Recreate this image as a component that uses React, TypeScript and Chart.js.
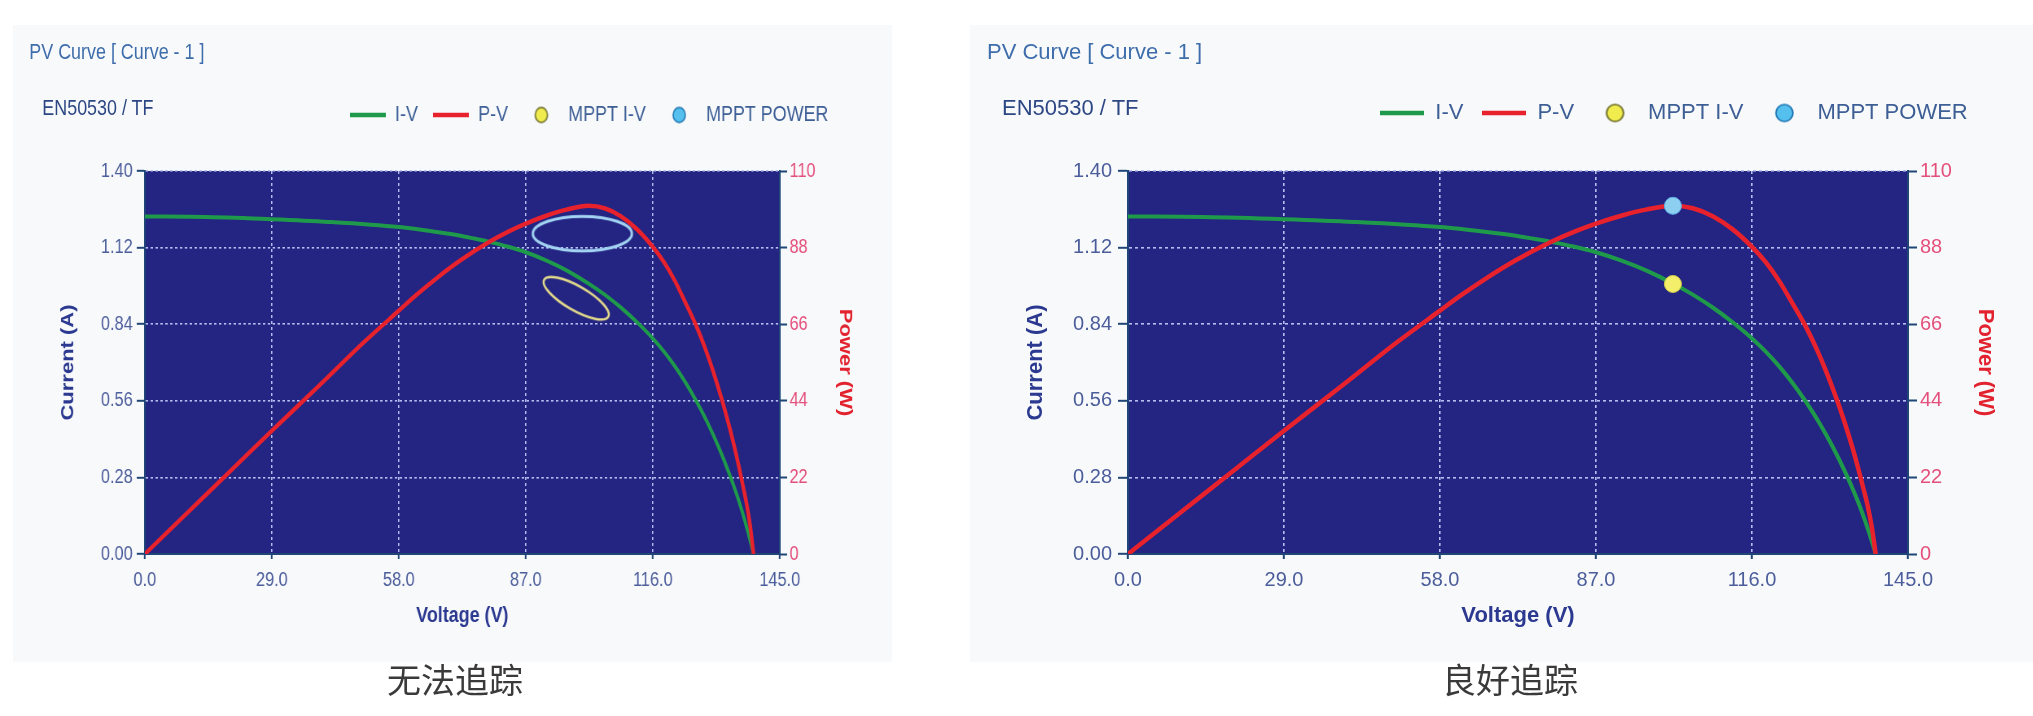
import React, { useEffect, useRef } from "react";
import { Chart, registerables } from "chart.js";

Chart.register(...registerables);

// ---------------- data ----------------
const ivVoltage = [0, 14, 29, 42, 58, 66.7, 71.5, 75.2, 78.6, 82.8, 87, 92, 96.3, 101.3, 105, 108.7, 112.4, 116, 118.6, 121.1, 123.5, 126, 128.5, 131, 133.5, 135.3, 136.6, 137.8, 139];
const ivCurrent = [1.234, 1.232, 1.224, 1.214, 1.195, 1.177, 1.165, 1.153, 1.141, 1.124, 1.103, 1.071, 1.037, 0.989, 0.948, 0.901, 0.847, 0.788, 0.739, 0.685, 0.626, 0.557, 0.48, 0.392, 0.292, 0.211, 0.145, 0.076, 0];

const pvVoltage = [0, 10, 20, 29, 40, 50, 58, 62, 66.8, 72, 78.6, 83, 87, 92, 96.3, 101.3, 105, 108.7, 112.35, 116, 118.55, 121.1, 123.55, 126, 128, 129.8, 131.9, 133.3, 134.7, 135.9, 136.7, 137.5, 138.25, 139];
const pvPower = [0, 12.2, 24.4, 35.4, 48.6, 60.8, 69.9, 74.4, 79.4, 84.3, 89.6, 92.6, 94.9, 97.3, 98.9, 100.0, 99.3, 97.0, 93.3, 88.2, 83.8, 78.3, 71.9, 65.3, 58.9, 52.4, 43.8, 37.4, 30.4, 23.7, 18.9, 13.9, 7.9, 0];

// MPPT markers, "good tracking" chart
const mpptGoodVoltage = [101.3];
const mpptGoodCurrent = [0.987];
const mpptGoodPower = [100.0];
// MPPT markers, "unable to track" chart (ring centres)
const mpptFailIVVoltage = [98.5];
const mpptFailIVCurrent = [0.935];
const mpptFailPowerVoltage = [99.9];
const mpptFailPower = [92.0];

// axes
const voltageRange = [0, 145];
const voltageStep = 29;
const currentRange = [0, 1.4];
const currentStep = 0.28;
const powerRange = [0, 110];
const powerStep = 22;

// texts
const legendLabels = ["I-V", "P-V", "MPPT I-V", "MPPT POWER"];
const chartTitle = "PV Curve [ Curve - 1 ]";
const chartSubtitle = "EN50530 / TF";
const axisTitles = ["Voltage (V)", "Current (A)", "Power (W)"];
const captions = ["无法追踪", "良好追踪"];

// ---------------- styling ----------------
const FONT = "'Liberation Sans', Arial, Helvetica, sans-serif";
const CJK = "'Noto Sans CJK SC', 'Noto Sans CJK TC', sans-serif";
const PLOT_BG = "#242483";
const GRID = "#b4bef0";
const AXIS = "#1f4677";
const GREEN = "#1f9a4b";
const RED = "#e8222c";
const TICK_BLUE = "#4b5d9b";
const TICK_RED = "#e4507c";
const TITLE_BLUE = "#2b3990";
const TITLE_RED = "#e2232f";
const LEGEND_TEXT = "#3d5f96";
const PANEL_BG = "#f8f9fb";

const PANEL_TOP = 25;
const PANEL_H = 637;
const PLOT_TOP = 146;
const PLOT_BOTTOM = 529;

type PanelCfg = {
  left: number;
  sx: number;
  W: number;
  plotL: number;
  plotR: number;
  yTitleX: number;
  y1TitleX: number;
  yTickPad: number;
  titleX: number;
  subX: number;
  legendCX: number;
  legendCY: number;
  lp: number;
  dotR: number;
  fail: boolean;
  caption: string;
  captionX: number;
};

const panels: PanelCfg[] = [
  { left: 13, sx: 0.814, W: 1080, plotL: 162, plotR: 942, yTitleX: 68, y1TitleX: 1022, yTickPad: 5, titleX: 20, subX: 36, legendCX: 708, legendCY: 90, lp: 19, dotR: 7.5, fail: true, caption: captions[0], captionX: 455 },
  { left: 970, sx: 1, W: 1063, plotL: 158, plotR: 938, yTitleX: 66, y1TitleX: 1015, yTickPad: 6, titleX: 17, subX: 32, legendCX: 704, legendCY: 88, lp: 19, dotR: 8.5, fail: false, caption: captions[1], captionX: 1510 },
];

// ---------------- helpers: swatch / marker images ----------------
function lineSwatch(color: string, w = 44, h = 6, thick = 4.5) {
  const c = document.createElement("canvas");
  c.width = w;
  c.height = h;
  const g = c.getContext("2d")!;
  g.fillStyle = color;
  g.fillRect(0, (h - thick) / 2, w, thick);
  return c;
}

function dotSwatch(fill: string, stroke: string, r: number) {
  const s = Math.ceil(2 * r + 4);
  const c = document.createElement("canvas");
  c.width = s;
  c.height = s;
  const g = c.getContext("2d")!;
  g.beginPath();
  g.arc(s / 2, s / 2, r, 0, Math.PI * 2);
  g.fillStyle = fill;
  g.fill();
  g.lineWidth = 1.6;
  g.strokeStyle = stroke;
  g.stroke();
  return c;
}

// ring drawn so that, after the panel's horizontal squeeze sx, it shows the wanted ellipse
function ellipseRing(a: number, b: number, angleDeg: number, sx: number, color: string, lw: number) {
  const rad = (angleDeg * Math.PI) / 180;
  const hw = Math.sqrt((a * Math.cos(rad)) ** 2 + (b * Math.sin(rad)) ** 2) / sx + lw + 2;
  const hh = Math.sqrt((a * Math.sin(rad)) ** 2 + (b * Math.cos(rad)) ** 2) + lw + 2;
  const c = document.createElement("canvas");
  c.width = Math.ceil(2 * hw);
  c.height = Math.ceil(2 * hh);
  const g = c.getContext("2d")!;
  g.translate(c.width / 2, c.height / 2);
  g.scale(1 / sx, 1);
  g.rotate(rad);
  g.beginPath();
  g.ellipse(0, 0, a, b, 0, 0, Math.PI * 2);
  g.setTransform(1, 0, 0, 1, 0, 0);
  g.lineWidth = lw;
  g.strokeStyle = color;
  g.stroke();
  return c;
}

// ---------------- plugins ----------------
const plotBg = {
  id: "plotBg",
  beforeDraw(chart: any) {
    const { ctx, chartArea } = chart;
    if (!chartArea) return;
    ctx.save();
    ctx.fillStyle = PLOT_BG;
    ctx.fillRect(chartArea.left, chartArea.top, chartArea.right - chartArea.left, chartArea.bottom - chartArea.top);
    ctx.restore();
  },
};

const legendMover = {
  id: "legendMover",
  afterLayout(chart: any, _args: any, opts: any) {
    const L = chart.legend;
    if (!L) return;
    const w = L.right - L.left;
    const h = L.bottom - L.top;
    L.left = opts.cx - w / 2;
    L.right = L.left + w;
    L.top = opts.top;
    L.bottom = L.top + h;
  },
};

// ---------------- chart config ----------------
function buildConfig(p: PanelCfg): any {
  const iv = ivVoltage.map((x, i) => ({ x, y: ivCurrent[i] }));
  const pv = pvVoltage.map((x, i) => ({ x, y: pvPower[i] }));

  const datasets: any[] = [
    { type: "line", label: legendLabels[0], data: iv, yAxisID: "y", borderColor: GREEN, backgroundColor: GREEN, borderWidth: 4, pointRadius: 0, cubicInterpolationMode: "monotone", fill: false, order: 3 },
    { type: "line", label: legendLabels[1], data: pv, yAxisID: "y1", borderColor: RED, backgroundColor: RED, borderWidth: 4.5, pointRadius: 0, cubicInterpolationMode: "monotone", fill: false, order: 2 },
  ];

  if (p.fail) {
    datasets.push({
      type: "scatter", label: legendLabels[2], yAxisID: "y",
      data: mpptFailIVVoltage.map((x, i) => ({ x, y: mpptFailIVCurrent[i] })),
      pointStyle: ellipseRing(37, 12, 30, p.sx, "#e4dc8a", 2.5), pointRadius: 6, rotation: 0, order: 1,
    });
    datasets.push({
      type: "scatter", label: legendLabels[3], yAxisID: "y1",
      data: mpptFailPowerVoltage.map((x, i) => ({ x, y: mpptFailPower[i] })),
      pointStyle: ellipseRing(49.5, 17.3, 0, p.sx, "#a3d5f3", 3), pointRadius: 6, rotation: 0, order: 0,
    });
  } else {
    datasets.push({
      type: "scatter", label: legendLabels[2], yAxisID: "y",
      data: mpptGoodVoltage.map((x, i) => ({ x, y: mpptGoodCurrent[i] })),
      pointStyle: "circle", pointRadius: 8.5, backgroundColor: "#f3ef6a", borderColor: "#d2ca4c", borderWidth: 1, order: 1,
    });
    datasets.push({
      type: "scatter", label: legendLabels[3], yAxisID: "y1",
      data: mpptGoodVoltage.map((x, i) => ({ x, y: mpptGoodPower[i] })),
      pointStyle: "circle", pointRadius: 8.5, backgroundColor: "#8ccff1", borderColor: "#5fb3e6", borderWidth: 1, order: 0,
    });
  }

  const swatches = [
    lineSwatch(GREEN),
    lineSwatch(RED),
    dotSwatch("#f0ec4e", "#6a6a26", p.dotR),
    dotSwatch("#55bfee", "#1e77b3", p.dotR),
  ];
  const legendItems = legendLabels.map((text, i) => ({
    text,
    datasetIndex: i,
    pointStyle: swatches[i],
    rotation: 0,
    fillStyle: "rgba(0,0,0,0)",
    strokeStyle: "rgba(0,0,0,0)",
    lineWidth: 1,
    hidden: false,
    fontColor: LEGEND_TEXT,
  }));

  const tickFont = { family: FONT, size: 20 };
  const titleFont = { family: FONT, size: 22, weight: "bold" };

  return {
    type: "line",
    data: { datasets },
    plugins: [plotBg, legendMover],
    options: {
      responsive: false,
      animation: false,
      events: [],
      layout: { padding: { top: PLOT_TOP - (22 + p.lp + 10), left: 0, right: 0, bottom: 0 } },
      plugins: {
        tooltip: { enabled: false },
        title: { display: false },
        legend: {
          display: true,
          position: "top",
          align: "center",
          labels: {
            usePointStyle: true,
            pointStyleWidth: 44,
            padding: p.lp,
            color: LEGEND_TEXT,
            font: { family: FONT, size: 22 },
            generateLabels: () => legendItems,
          },
        },
        legendMover: { cx: p.legendCX, top: p.legendCY - p.lp - 11 },
      },
      scales: {
        x: {
          type: "linear",
          position: "bottom",
          min: voltageRange[0],
          max: voltageRange[1],
          afterFit: (s: any) => { s.height = PANEL_H - PLOT_BOTTOM; },
          ticks: { stepSize: voltageStep, autoSkip: false, maxRotation: 0, color: TICK_BLUE, font: tickFont, padding: 9, callback: (v: any) => Number(v).toFixed(1) },
          grid: { color: GRID, lineWidth: 1.6, tickLength: 5, tickColor: AXIS, tickWidth: 2 },
          border: { color: AXIS, width: 2, dash: [3, 3] },
          title: { display: true, text: axisTitles[0], color: TITLE_BLUE, font: titleFont, padding: { top: 0, bottom: 33 } },
        },
        y: {
          type: "linear",
          position: "left",
          min: currentRange[0],
          max: currentRange[1],
          afterFit: (s: any) => { s.width = p.plotL; },
          ticks: { stepSize: currentStep, color: TICK_BLUE, font: tickFont, padding: p.yTickPad, callback: (v: any) => Number(v).toFixed(2) },
          grid: { color: GRID, lineWidth: 1.6, tickLength: 10, tickColor: AXIS, tickWidth: 2 },
          border: { color: AXIS, width: 2, dash: [3, 3] },
          title: { display: true, text: axisTitles[1], color: TITLE_BLUE, font: titleFont, padding: { top: p.yTitleX - 13.2, bottom: 0 } },
        },
        y1: {
          type: "linear",
          position: "right",
          min: powerRange[0],
          max: powerRange[1],
          afterFit: (s: any) => { s.width = p.W - p.plotR; },
          ticks: { stepSize: powerStep, color: TICK_RED, font: tickFont, padding: 3, callback: (v: any) => String(Math.round(Number(v))) },
          grid: { drawOnChartArea: false, tickLength: 9, tickColor: AXIS, tickWidth: 2, color: AXIS },
          border: { color: AXIS, width: 2 },
          title: { display: true, text: axisTitles[2], color: TITLE_RED, font: titleFont, padding: { top: p.W - p.y1TitleX - 13.2, bottom: 0 } },
        },
      },
    },
  };
}

// ---------------- components ----------------
function Panel({ p }: { p: PanelCfg }) {
  const ref = useRef<HTMLCanvasElement | null>(null);
  useEffect(() => {
    if (!ref.current) return;
    const chart = new Chart(ref.current, buildConfig(p));
    return () => chart.destroy();
  }, [p]);

  const textBase: React.CSSProperties = {
    position: "absolute",
    fontFamily: FONT,
    fontSize: 22,
    lineHeight: "22px",
    whiteSpace: "nowrap",
  };

  return (
    <div style={{ position: "absolute", left: p.left, top: PANEL_TOP, width: p.W * p.sx, height: PANEL_H, overflow: "hidden" }}>
      <div
        style={{
          position: "absolute",
          left: 0,
          top: 0,
          width: p.W,
          height: PANEL_H,
          transform: `scaleX(${p.sx})`,
          transformOrigin: "0 0",
          background: PANEL_BG,
        }}
      >
        <canvas ref={ref} width={p.W} height={PANEL_H} style={{ position: "absolute", left: 0, top: 0 }} />
        <div style={{ ...textBase, left: p.titleX, top: 16, color: "#3e6dab" }}>{chartTitle}</div>
        <div style={{ ...textBase, left: p.subX, top: 72, color: "#2d4785" }}>{chartSubtitle}</div>
      </div>
    </div>
  );
}

export default function App() {
  return (
    <div style={{ position: "absolute", left: 0, top: 0, width: 2033, height: 716, overflow: "hidden", background: "#ffffff" }}>
      {panels.map((p, i) => (
        <Panel key={i} p={p} />
      ))}
      {panels.map((p, i) => (
        <div
          key={"c" + i}
          style={{
            position: "absolute",
            left: p.captionX - 200,
            top: 662,
            width: 400,
            textAlign: "center",
            fontFamily: CJK,
            fontSize: 34,
            lineHeight: "34px",
            color: "#3a3a3a",
            whiteSpace: "nowrap",
          }}
        >
          {p.caption}
        </div>
      ))}
    </div>
  );
}
